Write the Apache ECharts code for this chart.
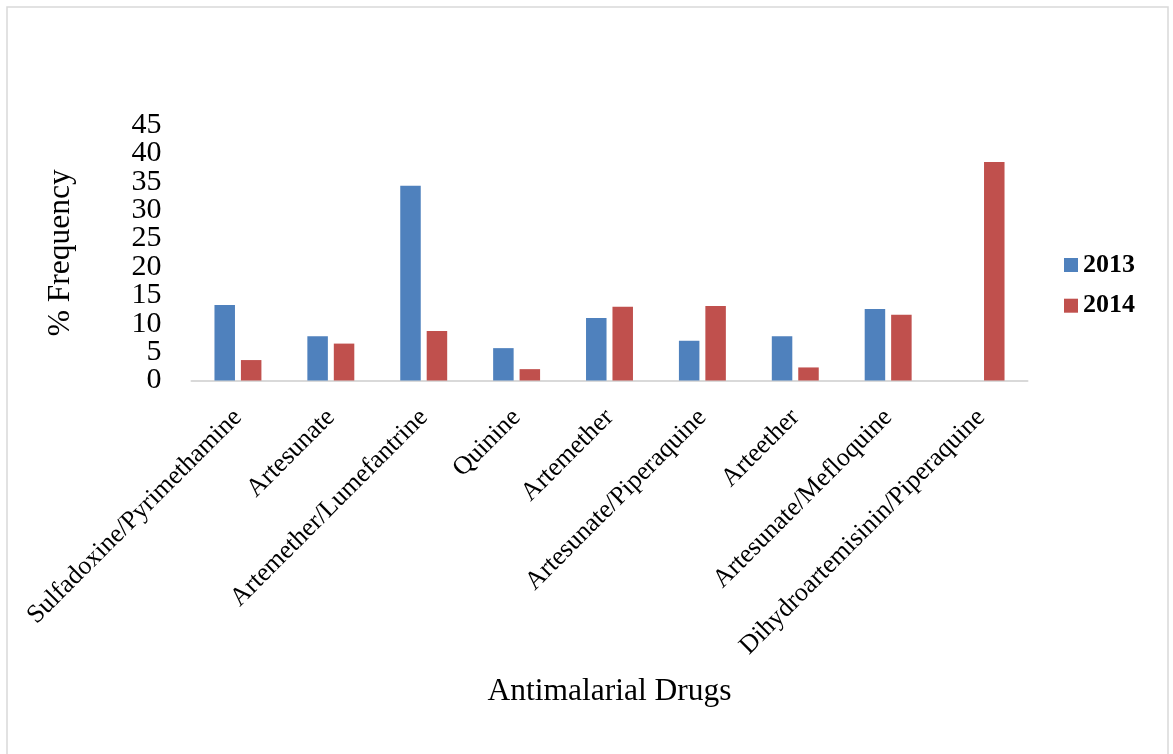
<!DOCTYPE html>
<html>
<head>
<meta charset="utf-8">
<style>
  html, body { margin: 0; padding: 0; background: #ffffff; }
  #chart { width: 1173px; height: 754px; }
</style>
<script src="https://cdn.jsdelivr.net/npm/echarts@6/dist/echarts.min.js"></script>
</head>
<body>
<div id="chart"></div>
<script>
// Antimalarial drug use, % frequency by year
var drugs = [
  'Sulfadoxine/Pyrimethamine',
  'Artesunate',
  'Artemether/Lumefantrine',
  'Quinine',
  'Artemether',
  'Artesunate/Piperaquine',
  'Arteether',
  'Artesunate/Mefloquine',
  'Dihydroartemisinin/Piperaquine'
];
var freq2013 = [13.3, 7.8, 34.3, 5.7, 11.0, 7.0, 7.8, 12.6, 0];
var freq2014 = [3.6, 6.5, 8.7, 2.0, 13.0, 13.1, 2.3, 11.6, 38.5];
var yearNames = ['2013', '2014'];

var serif = '"Liberation Serif", "DejaVu Serif", serif';

// The tick labels are tightly packed; split them over two coincident axes
// (multiples of 10 on one, odd fives on the other) so none get dropped.
function valueAxis(showTens, withName) {
  var axis = {
    type: 'value',
    position: 'left',
    offset: 0,
    min: 0,
    max: 45,
    interval: 5,
    axisLine: { show: false },
    axisTick: { show: false },
    splitLine: { show: false },
    axisLabel: {
      margin: 30,
      hideOverlap: false,
      fontFamily: serif,
      fontSize: 30,
      color: '#000000',
      formatter: function (v) {
        var isTen = v % 10 === 0;
        return isTen === showTens ? String(v) : '';
      }
    }
  };
  if (withName) {
    axis.name = '% Frequency';
    axis.nameLocation = 'middle';
    axis.nameGap = 115;
    axis.nameRotate = 90;
    axis.nameTextStyle = { fontFamily: serif, fontSize: 31.5, color: '#000000' };
  }
  return axis;
}

var chart = echarts.init(document.getElementById('chart'), null, { renderer: 'canvas' });

chart.setOption({
  backgroundColor: '#ffffff',
  animation: false,
  graphic: [{
    type: 'rect',
    shape: { x: 7, y: 7, width: 1161, height: 770 },
    style: { fill: 'none', stroke: '#d9d9d9', lineWidth: 1.5 },
    silent: true
  }],
  grid: {
    left: 191.5,
    right: 145.5,
    top: 125,
    bottom: 373.5,
    containLabel: false
  },
  legend: {
    orient: 'vertical',
    left: 1059,
    top: 247,
    itemWidth: 14,
    itemHeight: 14,
    itemGap: 14.7,
    icon: 'rect',
    data: yearNames,
    textStyle: {
      fontFamily: serif,
      fontSize: 26,
      fontWeight: 'bold',
      color: '#000000'
    }
  },
  xAxis: {
    type: 'category',
    data: drugs,
    boundaryGap: true,
    name: 'Antimalarial Drugs',
    nameLocation: 'middle',
    nameGap: 295,
    nameTextStyle: { fontFamily: serif, fontSize: 31.5, color: '#000000' },
    axisLine: { show: true, lineStyle: { color: '#d9d9d9', width: 2 } },
    axisTick: { show: false },
    axisLabel: {
      interval: 0,
      rotate: 45,
      margin: 33,
      fontFamily: serif,
      fontSize: 26,
      color: '#000000'
    },
    splitLine: { show: false }
  },
  yAxis: [valueAxis(true, true), valueAxis(false, false)],
  series: [
    {
      name: yearNames[0],
      type: 'bar',
      yAxisIndex: 0,
      data: freq2013,
      barWidth: 20.5,
      barGap: '29%',
      itemStyle: { color: '#4f81bd' }
    },
    {
      name: yearNames[1],
      type: 'bar',
      yAxisIndex: 0,
      data: freq2014,
      barWidth: 20.5,
      barGap: '29%',
      itemStyle: { color: '#c0504d' }
    }
  ]
});
</script>
</body>
</html>
